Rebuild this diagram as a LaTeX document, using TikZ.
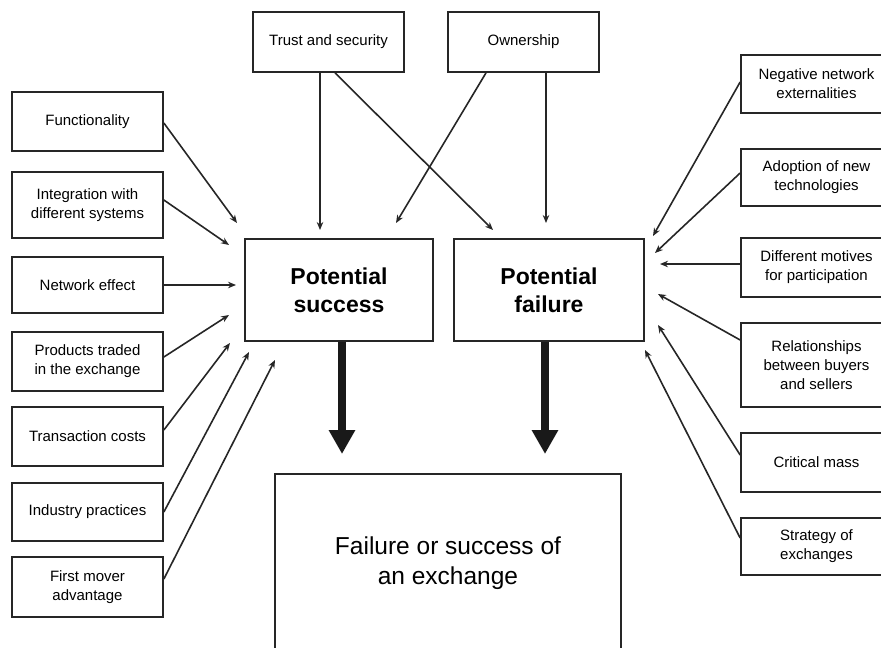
\documentclass[tikz,border=0pt]{standalone}
\usepackage{fontspec}
\setmainfont{Liberation Sans}
\usetikzlibrary{arrows.meta,calc}

\tikzset{
  factor/.style={draw=black!85, line width=1.7pt, align=center, inner sep=2pt,
    font=\fontsize{15}{19}\selectfont, minimum width=151pt},
  hub/.style={draw=black!85, line width=1.7pt, align=center,
    font=\fontsize{23}{28}\selectfont\bfseries, minimum height=102pt},
  link/.style={draw=black!85, line width=1.6pt, -{Stealth[length=8pt,width=6.5pt]}},
  bigarrow/.style={draw=black!90, line width=8.5pt, -{Triangle[length=24pt,width=25pt]}}
}

\begin{document}
\begin{tikzpicture}[x=1pt,y=-1pt]
\useasboundingbox (0,0) rectangle (881,648);

% left column: factors of success
\node[factor, minimum height=59pt] (func)  at (87.5,121.5) {Functionality};
\node[factor, minimum height=66pt] (integ) at (87.5,205)   {Integration with\\different systems};
\node[factor, minimum height=56pt] (neteff) at (87.5,285)  {Network effect};
\node[factor, minimum height=59pt] (prod)  at (87.5,361.5) {Products traded\\in the exchange};
\node[factor, minimum height=59pt] (trans) at (87.5,436.5) {Transaction costs};
\node[factor, minimum height=58pt] (indus) at (87.5,512)   {Industry practices};
\node[factor, minimum height=60pt] (first) at (87.5,587)   {First mover\\advantage};

% top row: shared factors
\node[factor, minimum height=60pt] (trust) at (328.5,42) {Trust and security};
\node[factor, minimum height=60pt] (own)   at (523.5,42) {Ownership};

% right column: factors of failure
\node[factor, minimum height=58pt] (neg)    at (816.5,84)    {Negative network\\externalities};
\node[factor, minimum height=57pt] (adopt)  at (816.5,177.5) {Adoption of new\\technologies};
\node[factor, minimum height=59pt] (motive) at (816.5,267.5) {Different motives\\for participation};
\node[factor, minimum height=84pt] (rel)    at (816.5,365)   {Relationships\\between buyers\\and sellers};
\node[factor, minimum height=59pt] (crit)   at (816.5,462.5) {Critical mass};
\node[factor, minimum height=57pt] (strat)  at (816.5,546.5) {Strategy of\\exchanges};

% the two intermediate outcomes
\node[hub, minimum width=188pt] (succ) at (339,290) {Potential\\success};
\node[hub, minimum width=190pt] (fail) at (549,290) {Potential\\failure};

% final outcome
\node[draw=black!85, line width=1.7pt, minimum width=346pt, minimum height=226pt]
  (outcome) at (448,587) {};
\node[align=center, font=\fontsize{24.5}{30}\selectfont] (outtext) at (448,563)
  {Failure or success of\\an exchange};

% arrow tip positions
\coordinate (sF)  at (237,223);
\coordinate (sI)  at (229,245);
\coordinate (sN)  at (236,285);
\coordinate (sP)  at (229,315);
\coordinate (sT)  at (230,343);
\coordinate (sD)  at (249,352);
\coordinate (sM)  at (275,360);
\coordinate (sTr) at (320,230);
\coordinate (sOw) at (396,223);
\coordinate (fTr) at (493,230);
\coordinate (fOw) at (546,223);
\coordinate (fNe) at (653,236);
\coordinate (fAd) at (655,253);
\coordinate (fMo) at (660,264);
\coordinate (fRe) at (658,294);
\coordinate (fCr) at (658,325);
\coordinate (fSt) at (645,350);
\coordinate (oS)  at (342,454);
\coordinate (oF)  at (545,454);

% left connectors
\draw[link] ($(func.east)+(0,1.5)$) -- (sF);
\draw[link] ($(integ.east)+(0,-5)$) -- (sI);
\draw[link] (neteff.east) -- (sN);
\draw[link] ($(prod.east)+(0,-4.5)$) -- (sP);
\draw[link] ($(trans.east)+(0,-6.5)$) -- (sT);
\draw[link] (indus.east) -- (sD);
\draw[link] ($(first.east)+(0,-8)$) -- (sM);

% top connectors
\draw[link] ($(trust.south)+(-8.5,0)$) -- (sTr);
\draw[link] ($(trust.south)+(6.5,0)$) -- (fTr);
\draw[link] ($(own.south)+(-37.5,0)$) -- (sOw);
\draw[link] ($(own.south)+(22.5,0)$) -- (fOw);

% right connectors
\draw[link] ($(neg.west)+(0,-2)$) -- (fNe);
\draw[link] ($(adopt.west)+(0,-4.5)$) -- (fAd);
\draw[link] ($(motive.west)+(0,-3.5)$) -- (fMo);
\draw[link] ($(rel.west)+(0,-25)$) -- (fRe);
\draw[link] ($(crit.west)+(0,-7.5)$) -- (fCr);
\draw[link] ($(strat.west)+(0,-8.5)$) -- (fSt);

% heavy arrows into the final outcome
\draw[bigarrow] ($(succ.south)+(3,0)$) -- (oS);
\draw[bigarrow] ($(fail.south)+(-4,0)$) -- (oF);
\end{tikzpicture}
\end{document}
